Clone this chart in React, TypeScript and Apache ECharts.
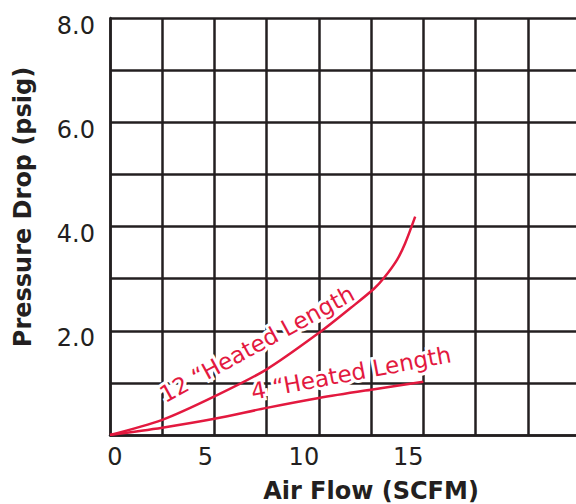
import React, { useEffect, useRef } from "react";
import * as echarts from "echarts";

const xTicks = [0, 5, 10, 15];
const yTicks = [2, 4, 6, 8];
const flow12 = [0, 2.5, 5, 7.5, 10.14, 11.53, 12.65, 13.13, 13.74, 14.13, 14.61];
const drop12 = [0, 0.29, 0.74, 1.26, 2.0, 2.44, 2.81, 3.02, 3.36, 3.68, 4.19];
const flow4 = [0, 2.5, 5, 7.5, 10, 12.5, 15];
const drop4 = [0, 0.14, 0.31, 0.52, 0.71, 0.87, 1.02];
const label12 = "12 “Heated Length";
const label4 = "4 “Heated Length";
const xTitle = "Air Flow (SCFM)";
const yTitle = "Pressure Drop (psig)";

const INK = "#231f20";
const RED = "#e3193f";
const FONT = "DejaVu Sans";

export default function App() {
  const ref = useRef<HTMLDivElement>(null);
  useEffect(() => {
    const chart = echarts.init(ref.current!, null, { renderer: "svg" });
    const xPad: Record<number, number[]> = { 0: [0, 0, 0, 10], 5: [0, 18, 0, 0], 10: [0, 30, 0, 0], 15: [0, 30, 0, 0] };
    chart.setOption({
      animation: false,
      grid: { left: 110, right: -4, top: 18, bottom: 69, outerBoundsMode: "none", containLabel: false },
      xAxis: {
        type: "value",
        min: 0,
        max: 22.5,
        interval: 2.5,
        name: xTitle,
        nameLocation: "middle",
        nameGap: 44,
        nameTextStyle: { fontFamily: FONT, fontWeight: "bold", fontSize: 24, color: INK, padding: [0, 0, 0, 52] },
        axisLine: { show: true, lineStyle: { color: INK, width: 2.5 } },
        axisTick: { show: false },
        splitLine: { show: true, lineStyle: { color: INK, width: 2.5 } },
        axisLabel: {
          margin: 10,
          fontFamily: FONT,
          fontSize: 24,
          color: INK,
          formatter: (v: number) => {
            const i = xTicks.indexOf(v);
            return i >= 0 ? `{t${i}|${v}}` : "";
          },
          rich: Object.fromEntries(
            xTicks.map((t, i) => [`t${i}`, { fontFamily: FONT, fontSize: 24, color: INK, padding: xPad[t] }])
          ),
        },
      },
      yAxis: {
        type: "value",
        min: 0,
        max: 8,
        interval: 1,
        name: yTitle,
        nameLocation: "middle",
        nameGap: 75,
        nameTextStyle: { fontFamily: FONT, fontWeight: "bold", fontSize: 24, color: INK, padding: [0, 0, 0, 39] },
        axisLine: { show: true, lineStyle: { color: INK, width: 2.5 } },
        axisTick: { show: false },
        splitLine: { show: true, lineStyle: { color: INK, width: 2.5 } },
        axisLabel: {
          margin: 15,
          fontFamily: FONT,
          fontSize: 24,
          color: INK,
          formatter: (v: number) => (yTicks.includes(v) ? `{v|${v.toFixed(1)}}` : ""),
          rich: { v: { fontFamily: FONT, fontSize: 24, color: INK, padding: [15, 0, 0, 0] } },
        },
      },
      series: [
        {
          type: "line",
          data: flow12.map((x, i) => [x, drop12[i]]),
          smooth: 0.3,
          showSymbol: false,
          z: 3,
          lineStyle: { color: RED, width: 2.5 },
        },
        {
          type: "line",
          data: flow4.map((x, i) => [x, drop4[i]]),
          smooth: 0.3,
          showSymbol: false,
          z: 3,
          lineStyle: { color: RED, width: 2.5 },
        },
      ],
      graphic: [
        {
          type: "text",
          x: 257,
          y: 344,
          rotation: (28.6 * Math.PI) / 180,
          z: 1,
          style: {
            text: label12,
            fill: RED,
            font: `23px ${FONT}`,
            align: "center",
            verticalAlign: "middle",
            stroke: "#fff",
            lineWidth: 6,
          },
        },
        {
          type: "text",
          x: 351,
          y: 373,
          rotation: (10.7 * Math.PI) / 180,
          z: 1,
          style: {
            text: label4,
            fill: RED,
            font: `23px ${FONT}`,
            align: "center",
            verticalAlign: "middle",
            stroke: "#fff",
            lineWidth: 6,
          },
        },
      ],
    });
    return () => chart.dispose();
  }, []);
  return <div ref={ref} style={{ position: "absolute", left: 0, top: 0, width: 576, height: 504 }} />;
}
